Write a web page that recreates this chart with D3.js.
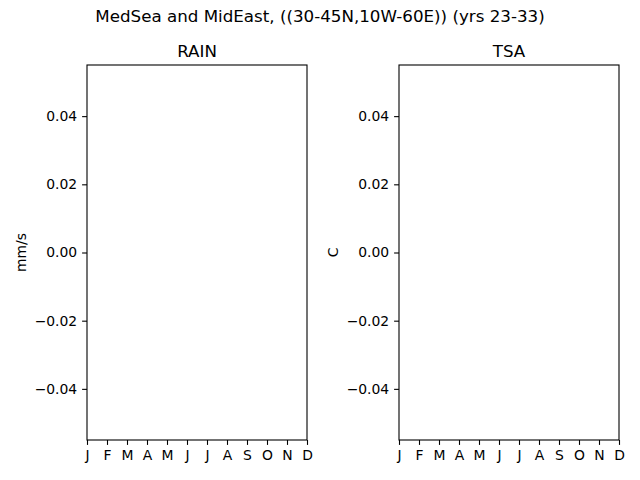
<!DOCTYPE html>
<html>
<head>
<meta charset="utf-8">
<script src="https://cdn.jsdelivr.net/npm/d3@7"></script>
<style>
  body { margin: 0; background: white; }
  svg { font-family: "DejaVu Sans", sans-serif; }
</style>
</head>
<body>
<div id="chart"></div>
<script>
const months = ["J", "F", "M", "A", "M", "J", "J", "A", "S", "O", "N", "D"];
const yTicks = [-0.04, -0.02, 0.00, 0.02, 0.04];
const panelTitles = ["RAIN", "TSA"];
const panelUnits = ["mm/s", "C"];
const yDomain = [-0.055, 0.055];
const suptitle = "MedSea and MidEast, ((30-45N,10W-60E)) (yrs 23-33)";

const svg = d3.select("#chart").append("svg")
    .attr("width", 640).attr("height", 480);

svg.append("text")
    .attr("x", 320).attr("y", 22)
    .attr("text-anchor", "middle")
    .attr("font-size", 16.7)
    .text(suptitle);

const panelLeft = [87, 399];
const plotTop = 65, plotBottom = 440, plotW = 220;

const y = d3.scaleLinear().domain(yDomain).range([plotBottom, plotTop]);

panelTitles.forEach((title, i) => {
    const g = svg.append("g").attr("transform", `translate(${panelLeft[i]},0)`);
    const x = d3.scalePoint().domain(d3.range(12)).range([0, plotW]);

    const yAxis = d3.axisLeft(y)
        .tickValues(yTicks)
        .tickFormat(d3.format(".2f"))
        .tickSize(4.9).tickPadding(4.9).tickSizeOuter(0);
    const gy = g.append("g").call(yAxis);
    gy.select(".domain").remove();

    const xAxis = d3.axisBottom(x)
        .tickFormat(d => months[d])
        .tickSize(4.9).tickPadding(4.9).tickSizeOuter(0);
    const gx = g.append("g").attr("transform", `translate(0,${plotBottom})`).call(xAxis);
    gx.select(".domain").remove();

    [gx, gy].forEach(a => {
        a.selectAll("text").attr("font-size", 13.9).attr("fill", "black")
            .attr("font-family", "DejaVu Sans, sans-serif");
        a.selectAll("line").attr("stroke", "black").attr("stroke-width", 1.1);
    });

    g.append("rect")
        .attr("x", 0).attr("y", plotTop)
        .attr("width", plotW).attr("height", plotBottom - plotTop)
        .attr("fill", "none").attr("stroke", "black").attr("stroke-width", 1.1);

    g.append("text")
        .attr("x", plotW / 2).attr("y", plotTop - 8)
        .attr("text-anchor", "middle")
        .attr("font-size", 16.7)
        .text(title);

    g.append("text")
        .attr("transform", `translate(-61,${(plotTop + plotBottom) / 2}) rotate(-90)`)
        .attr("text-anchor", "middle")
        .attr("font-size", 13.9)
        .text(panelUnits[i]);
});
</script>
</body>
</html>
